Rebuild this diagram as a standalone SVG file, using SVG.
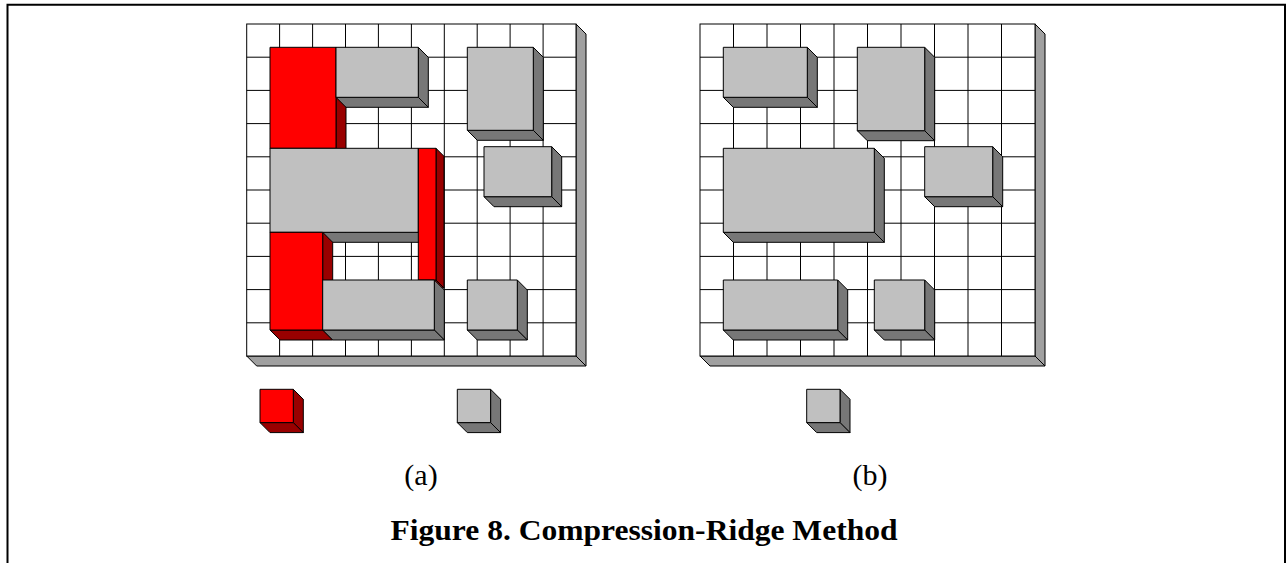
<svg xmlns="http://www.w3.org/2000/svg" width="1286" height="563" viewBox="0 0 1286 563">
<style>
.bg{fill:#fff}
.board{fill:#fff;stroke:#000;stroke-width:1}
.grid{stroke:#000;stroke-width:1;fill:none}
.bs{fill:#a0a0a0;stroke:#000;stroke-width:1;stroke-linejoin:round}
.rf{fill:#ff0000;stroke:#000;stroke-width:1;stroke-linejoin:round}
.rd{fill:#990000;stroke:#000;stroke-width:1;stroke-linejoin:round}
.gf{fill:#c0c0c0;stroke:#000;stroke-width:1;stroke-linejoin:round}
.gd{fill:#777777;stroke:#000;stroke-width:1;stroke-linejoin:round}
.lbl{font-family:"Liberation Serif","Times New Roman",serif;font-size:30px;fill:#000;text-anchor:middle}
.cap{font-family:"Liberation Serif","Times New Roman",serif;font-size:29px;font-weight:bold;fill:#000;text-anchor:middle}
.frame{fill:none;stroke:#000;stroke-width:2}
</style>
<rect class="bg" x="0" y="0" width="1286" height="563"/>
<path class="frame" d="M7.5,563 V4.8 H1285 V563"/>

<g id="board-a">
  <polygon class="bs" points="576,24 586,34 586,366 576,356"/>
  <polygon class="bs" points="246.7,356 576,356 586,366 256.7,366"/>
  <rect class="board" x="246.7" y="24" width="329.3" height="332"/>
  <path class="grid" d="M279.6,24V356M312.6,24V356M345.5,24V356M378.4,24V356M411.4,24V356M444.3,24V356M477.2,24V356M510.1,24V356M543.1,24V356M246.7,57.2H576M246.7,90.4H576M246.7,123.6H576M246.7,156.8H576M246.7,190H576M246.7,223.2H576M246.7,256.4H576M246.7,289.6H576M246.7,322.8H576"/>
</g>

<g id="board-b">
  <polygon class="bs" points="1035,24 1045,34 1045,366 1035,356"/>
  <polygon class="bs" points="700,356 1035,356 1045,366 710,366"/>
  <rect class="board" x="700" y="24" width="335" height="332"/>
  <path class="grid" d="M733.5,24V356M767,24V356M800.5,24V356M834,24V356M867.5,24V356M901,24V356M934.5,24V356M968,24V356M1001.5,24V356M700,57.2H1035M700,90.4H1035M700,123.6H1035M700,156.8H1035M700,190H1035M700,223.2H1035M700,256.4H1035M700,289.6H1035M700,322.8H1035"/>
</g>

<g id="a-red1">
  <polygon class="rd" points="336,47.3 346,57.3 346,158.3 336,148.3"/>
  <polygon class="rd" points="270,148.3 336,148.3 346,158.3 280,158.3"/>
  <rect class="rf" x="270" y="47.3" width="66" height="101"/>
</g>
<g id="a-grayA">
  <polygon class="gd" points="418.3,47.3 428.3,57.3 428.3,107.3 418.3,97.3"/>
  <polygon class="gd" points="336,97.3 418.3,97.3 428.3,107.3 346,107.3"/>
  <rect class="gf" x="336" y="47.3" width="82.3" height="50"/>
</g>
<g id="a-grayB">
  <polygon class="gd" points="533.3,47.3 543.3,57.3 543.3,140.3 533.3,130.3"/>
  <polygon class="gd" points="467.3,130.3 533.3,130.3 543.3,140.3 477.3,140.3"/>
  <rect class="gf" x="467.3" y="47.3" width="66" height="83"/>
</g>
<g id="a-grayC">
  <polygon class="gd" points="551.7,146.7 561.7,156.7 561.7,206.7 551.7,196.7"/>
  <polygon class="gd" points="484,196.7 551.7,196.7 561.7,206.7 494,206.7"/>
  <rect class="gf" x="484" y="146.7" width="67.7" height="50"/>
</g>
<g id="a-grayD">
  <polygon class="gd" points="418.3,148.3 428.3,158.3 428.3,242.3 418.3,232.3"/>
  <polygon class="gd" points="270,232.3 418.3,232.3 428.3,242.3 280,242.3"/>
  <rect class="gf" x="270" y="148.3" width="148.3" height="84"/>
</g>
<g id="a-red2">
  <polygon class="rd" points="436,148.3 444,156.3 444,288 436,280"/>
  <polygon class="rd" points="418.3,280 436,280 444,288 426.3,288"/>
  <rect class="rf" x="418.3" y="148.3" width="17.7" height="131.7"/>
</g>
<g id="a-red3">
  <polygon class="rd" points="322.7,232.3 332.7,242.3 332.7,340 322.7,330"/>
  <polygon class="rd" points="270,330 322.7,330 332.7,340 280,340"/>
  <rect class="rf" x="270" y="232.3" width="52.7" height="97.7"/>
</g>
<g id="a-grayF">
  <polygon class="gd" points="434.3,280 444.3,290 444.3,340 434.3,330"/>
  <polygon class="gd" points="322.7,330 434.3,330 444.3,340 332.7,340"/>
  <rect class="gf" x="322.7" y="280" width="111.6" height="50"/>
</g>
<g id="a-grayH">
  <polygon class="gd" points="517.3,280 527.3,290 527.3,340 517.3,330"/>
  <polygon class="gd" points="467.3,330 517.3,330 527.3,340 477.3,340"/>
  <rect class="gf" x="467.3" y="280" width="50" height="50"/>
</g>

<g id="b-gray1">
  <polygon class="gd" points="807.3,47.3 817.3,57.3 817.3,107.3 807.3,97.3"/>
  <polygon class="gd" points="723.3,97.3 807.3,97.3 817.3,107.3 733.3,107.3"/>
  <rect class="gf" x="723.3" y="47.3" width="84" height="50"/>
</g>
<g id="b-gray2">
  <polygon class="gd" points="924.7,47.3 934.7,57.3 934.7,140.7 924.7,130.7"/>
  <polygon class="gd" points="857.3,130.7 924.7,130.7 934.7,140.7 867.3,140.7"/>
  <rect class="gf" x="857.3" y="47.3" width="67.4" height="83.4"/>
</g>
<g id="b-gray3">
  <polygon class="gd" points="874.3,148.3 884.3,158.3 884.3,242.3 874.3,232.3"/>
  <polygon class="gd" points="723.3,232.3 874.3,232.3 884.3,242.3 733.3,242.3"/>
  <rect class="gf" x="723.3" y="148.3" width="151" height="84"/>
</g>
<g id="b-gray4">
  <polygon class="gd" points="992.7,146.7 1002.7,156.7 1002.7,206.7 992.7,196.7"/>
  <polygon class="gd" points="924.7,196.7 992.7,196.7 1002.7,206.7 934.7,206.7"/>
  <rect class="gf" x="924.7" y="146.7" width="68" height="50"/>
</g>
<g id="b-gray5">
  <polygon class="gd" points="837.7,280 847.7,290 847.7,340 837.7,330"/>
  <polygon class="gd" points="723.3,330 837.7,330 847.7,340 733.3,340"/>
  <rect class="gf" x="723.3" y="280" width="114.4" height="50"/>
</g>
<g id="b-gray6">
  <polygon class="gd" points="924.7,280 934.7,290 934.7,340 924.7,330"/>
  <polygon class="gd" points="874.3,330 924.7,330 934.7,340 884.3,340"/>
  <rect class="gf" x="874.3" y="280" width="50.4" height="50"/>
</g>

<g id="legend-a-red">
  <polygon class="rd" points="293.3,389.3 303.3,399.3 303.3,432.6 293.3,422.6"/>
  <polygon class="rd" points="260,422.6 293.3,422.6 303.3,432.6 270,432.6"/>
  <rect class="rf" x="260" y="389.3" width="33.3" height="33.3"/>
</g>
<g id="legend-a-gray">
  <polygon class="gd" points="490.6,389.3 500.6,399.3 500.6,432.6 490.6,422.6"/>
  <polygon class="gd" points="457.3,422.6 490.6,422.6 500.6,432.6 467.3,432.6"/>
  <rect class="gf" x="457.3" y="389.3" width="33.3" height="33.3"/>
</g>
<g id="legend-b-gray">
  <polygon class="gd" points="840,389.3 850,399.3 850,432.6 840,422.6"/>
  <polygon class="gd" points="806.7,422.6 840,422.6 850,432.6 816.7,432.6"/>
  <rect class="gf" x="806.7" y="389.3" width="33.3" height="33.3"/>
</g>

<g id="labels">
  <text class="lbl" x="421" y="484.5">(a)</text>
  <text class="lbl" x="870" y="484.5">(b)</text>
  <text class="cap" x="644" y="539.5" textLength="507" lengthAdjust="spacingAndGlyphs">Figure 8. Compression-Ridge Method</text>
</g>
</svg>
